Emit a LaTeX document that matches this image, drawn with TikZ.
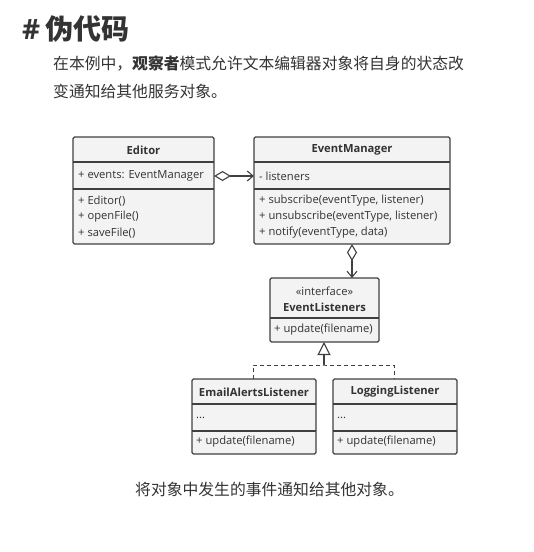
\documentclass[tikz,border=0pt]{standalone}
\usepackage{fontspec}
\setmainfont{Open Sans}
\newfontfamily\cjk{Noto Sans CJK SC}
\usetikzlibrary{arrows.meta}
\definecolor{boxfill}{HTML}{F3F3F3}
\definecolor{boxline}{HTML}{404040}
\definecolor{txt}{HTML}{333333}
\begin{document}
\begin{tikzpicture}[x=1pt,y=-1pt,
  cls/.style={draw=boxline,fill=boxfill,line width=1.1pt,rounded corners=1.5pt,inner sep=0pt},
  row/.style={anchor=west,inner sep=0pt,font=\fontsize{11.2}{13}\selectfont,text=txt},
  hdr/.style={inner sep=0pt,font=\fontsize{11.2}{13}\selectfont\bfseries,text=txt},
  sep/.style={draw=boxline,line width=1.1pt},
  conn/.style={draw=boxline,line width=1.1pt}]
\useasboundingbox (0,0) rectangle (534,552);
% heading
\node[anchor=base west,inner sep=0pt,text=txt,font=\fontsize{28}{30}\selectfont\bfseries] (h) at (22,39) {\#\hspace{5pt}{\cjk 伪代码}};
\node[anchor=base west,inner sep=0pt,text=txt,font=\cjk\fontsize{15.8}{17}\selectfont] (p1) at (53,69) {在本例中，{\bfseries 观察者}模式允许文本编辑器对象将自身的状态改};
\node[anchor=base west,inner sep=0pt,text=txt,font=\cjk\fontsize{15.8}{17}\selectfont] (p2) at (53,97) {变通知给其他服务对象。};
\node[anchor=base west,inner sep=0pt,text=txt,font=\cjk\fontsize{15.8}{17}\selectfont] (cap) at (135,495) {将对象中发生的事件通知给其他对象。};
% Editor
\draw[cls] (73,137) rectangle (214,244);
\coordinate (ed) at (214,176);
\draw[sep] (73,162) -- (214,162) (73,189) -- (214,189);
\node[hdr] (edt) at (143.5,150) {Editor};
\node[row] (ed1) at (78,176) {+ events: EventManager};
\node[row] (ed2) at (78,201) {+ Editor()};
\node[row] (ed3) at (78,217) {+ openFile()};
\node[row] (ed4) at (78,233) {+ saveFile()};
% EventManager
\draw[cls] (254,137) rectangle (450,244);
\coordinate (em) at (254,176);
\coordinate (emb) at (352,244);
\draw[sep] (254,162) -- (450,162) (254,189) -- (450,189);
\node[hdr] (emt) at (352,150) {EventManager};
\node[row] (em1) at (259,176) {- listeners};
\node[row] (em2) at (259,201) {+ subscribe(eventType, listener)};
\node[row] (em3) at (259,217) {+ unsubscribe(eventType, listener)};
\node[row] (em4) at (259,233) {+ notify(eventType, data)};
% EventListeners
\draw[cls] (270,278) rectangle (379,342);
\coordinate (elt) at (352,278);
\coordinate (elb) at (324,342);
\draw[sep] (270,318) -- (379,318);
\node[inner sep=0pt,font=\fontsize{11.2}{13}\selectfont,text=txt] (elst) at (324.5,291) {«interface»};
\node[hdr] (elt2) at (324.5,307) {EventListeners};
\node[row] (el1) at (274,330) {+ update(filename)};
% Email
\draw[cls] (192,379) rectangle (316,454);
\coordinate (ea) at (253,379);
\draw[sep] (192,404) -- (316,404) (192,431) -- (316,431);
\node[hdr] (eat) at (254,392) {EmailAlertsListener};
\node[row] (ea1) at (196,418) {...};
\node[row] (ea2) at (196,442) {+ update(filename)};
% Logging
\draw[cls] (333,379) rectangle (457,454);
\coordinate (lg) at (394,379);
\draw[sep] (333,404) -- (457,404) (333,431) -- (457,431);
\node[hdr] (lgt) at (395,392) {LoggingListener};
\node[row] (lg1) at (337,418) {...};
\node[row] (lg2) at (337,442) {+ update(filename)};
% connectors
\draw[conn,{Diamond[open,length=17pt,width=10pt,line width=1.1pt]}-{Straight Barb[length=6pt,width=10pt,line width=1.1pt]}] (ed) -- (em);
\draw[conn,{Diamond[open,length=17pt,width=10pt,line width=1.1pt]}-{Straight Barb[length=6pt,width=10pt,line width=1.1pt]}] (emb) -- (elt);
\coordinate (j) at (324,365);
\draw[conn,line width=0.9pt,dash pattern=on 4pt off 3pt] (ea) |- (j) -| (lg);
\draw[conn,-{Triangle[open,length=13pt,width=13pt,line width=1.1pt]}] (j) -- (elb);
\end{tikzpicture}
\end{document}
